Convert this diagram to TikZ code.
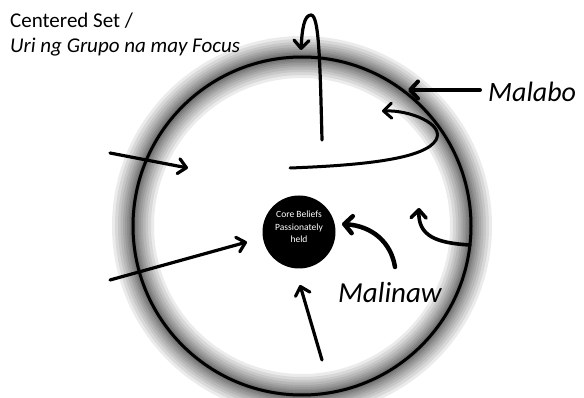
\documentclass[tikz,border=0pt]{standalone}
\usepackage{fontspec}
\setmainfont{Carlito}
\usetikzlibrary{arrows.meta}
\begin{document}
\begin{tikzpicture}[x=1pt,y=-1pt,
  arr/.style={line width=3.2pt, line cap=round,
    -{Straight Barb[length=8pt,width=15pt,round]}},
  bigarr/.style={line width=4.5pt, line cap=round,
    -{Straight Barb[length=8pt,width=17pt,round]}},
  lbl/.style={anchor=base west, inner sep=0pt},
  glow/.style={black, opacity=0.08}]
\useasboundingbox (0,0) rectangle (584,398);
\fill[white] (0,0) rectangle (584,398);
% glow around the ring
\coordinate (C) at (302,226);
\foreach \w in {2,4,6,9,12,16,20,25,30,36,42}
  \draw[glow, line width=\w pt] (C) circle[radius=169];
\node[circle, draw=black, line width=3pt, minimum size=338pt, inner sep=0pt] (ring) at (C) {};
% core
\node[circle, fill=black, minimum size=73pt, inner sep=0pt] (core) at (299,232) {};
\node[text=white, align=center, font=\fontsize{9.5}{12.5}\selectfont, inner sep=0pt] (coretext) at (299,227)
  {Core Beliefs\\Passionately\\held};
% texts
\node[lbl, font=\fontsize{21}{25}\selectfont] (title1) at (10,28) {Centered Set /};
\node[lbl, font=\fontsize{21}{25}\selectfont\itshape] (title2) at (10,53) {Uri ng Grupo na may Focus};
\node[lbl, font=\fontsize{28}{32}\selectfont\itshape] (malabo) at (488,102) {Malabo};
\node[lbl, font=\fontsize{29}{33}\selectfont\itshape] (malinaw) at (338,302) {Malinaw};
% coordinates
\coordinate (a1s) at (110,153); \coordinate (a1e) at (188,168);
\coordinate (a2s) at (110,280); \coordinate (a2e) at (247,242);
\coordinate (a3s) at (322,360); \coordinate (a3e) at (300,285);
\coordinate (a4s) at (395,267); \coordinate (a4e) at (342,224);
\coordinate (a5s) at (470,245); \coordinate (a5e) at (419,208);
\coordinate (a6s) at (480,90);  \coordinate (a6e) at (408,90);
\coordinate (a7s) at (290,168); \coordinate (a7t) at (436,140); \coordinate (a7e) at (382,111);
\coordinate (a8s) at (322,140); \coordinate (a8t) at (311,15);  \coordinate (a8e) at (301,50);
% arrows
\draw[arr] (a1s) -- (a1e);
\draw[arr] (a2s) -- (a2e);
\draw[arr] (a3s) -- (a3e);
\draw[bigarr] (a4s) .. controls (391,242) and (372,226) .. (a4e);
\draw[arr, line width=3.6pt] (a5s) .. controls (436,243) and (418,236) .. (a5e);
\draw[bigarr, line width=4pt] (a6s) -- (a6e);
\draw[arr, line width=3pt] (a7s) .. controls (370,165) and (425,158) .. (a7t)
  .. controls (445,124) and (410,110) .. (a7e);
\draw[arr] (a8s) .. controls (320,60) and (319,15) .. (a8t)
  .. controls (304,15) and (302,30) .. (a8e);
\end{tikzpicture}
\end{document}
